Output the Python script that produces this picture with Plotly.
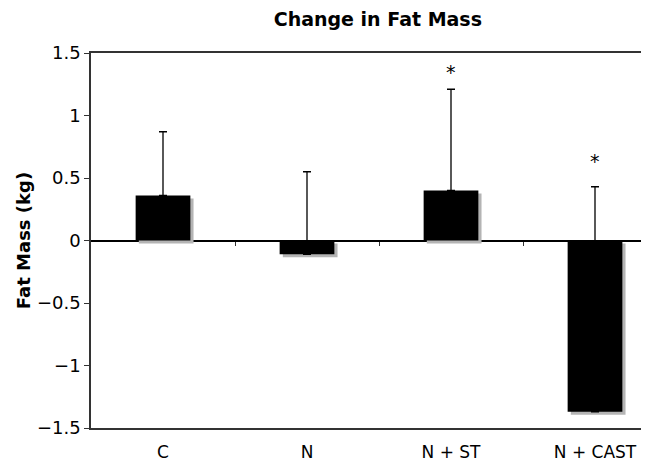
import plotly.graph_objects as go

categories = ["C", "N", "N + ST", "N + CAST"]
means = [0.36, -0.11, 0.40, -1.37]
err_top = [0.87, 0.55, 1.21, 0.43]          # top end of each error bar (kg)
star_y = [None, None, 1.37, 0.66]           # significance asterisks
y_ticks = [1.5, 1, 0.5, 0, -0.5, -1, -1.5]

err_plus = [t - m for t, m in zip(err_top, means)]
x_idx = list(range(len(categories)))

FONT = "DejaVu Sans, Verdana, sans-serif"
bar_w = 0.38

fig = go.Figure()
# soft drop shadow
fig.add_trace(go.Bar(
    x=x_idx, y=means, base=-0.024, width=bar_w, offset=-bar_w / 2 + 0.022,
    marker=dict(color="#b4b4b4", line=dict(width=0)), hoverinfo="skip", showlegend=False,
))
fig.add_trace(go.Bar(
    x=x_idx, y=means, width=bar_w, offset=-bar_w / 2,
    marker=dict(color="black", line=dict(width=0)), showlegend=False,
    error_y=dict(type="data", symmetric=False, array=err_plus,
                 arrayminus=[0] * len(means), color="black", thickness=1.3, width=4),
))

for i, s in enumerate(star_y):
    if s is not None:
        fig.add_annotation(x=i, y=s, text="*", showarrow=False, yanchor="middle",
                           yshift=-3, font=dict(family=FONT, size=19, color="black"))

fig.update_layout(
    width=641, height=454,
    margin=dict(l=83, r=0, t=45, b=30),
    paper_bgcolor="white", plot_bgcolor="white",
    barmode="overlay",
    title=dict(text="<b>Change in Fat Mass</b>", x=0.577, xanchor="center", y=0.974,
               yanchor="middle", font=dict(family=FONT, size=19, color="black")),
    xaxis=dict(
        range=[-0.5, 3.375], tickmode="array", tickvals=x_idx, ticktext=categories,
        showline=True, linecolor="#333", linewidth=1.5, mirror=True,
        ticks="", showgrid=False, zeroline=False, ticklabelstandoff=8,
        tickfont=dict(family=FONT, size=17, color="black"),
    ),
    xaxis2=dict(
        overlaying="x", anchor="free", position=0.5, side="bottom",
        range=[-0.5, 3.375], tickmode="array", tickvals=[0.5, 1.5, 2.5],
        ticks="outside", ticklen=4, tickwidth=1, tickcolor="#333",
        showticklabels=False, showline=False, showgrid=False, zeroline=False,
    ),
    yaxis=dict(
        range=[-1.5, 1.5], tickmode="array", tickvals=y_ticks,
        showline=True, linecolor="#333", linewidth=1.5,
        ticks="outside", ticklen=5, tickwidth=1, tickcolor="#333",
        showgrid=False, zeroline=True, zerolinecolor="black", zerolinewidth=1.8,
        tickfont=dict(family=FONT, size=18, color="black"),
        title=dict(text="<b>Fat Mass (kg)</b>", standoff=2,
                   font=dict(family=FONT, size=18, color="black")),
    ),
)
# invisible point so that the zero-line tick axis is drawn
fig.add_trace(go.Scatter(x=[0], y=[0], xaxis="x2", mode="markers",
                         marker=dict(opacity=0), hoverinfo="skip", showlegend=False))

fig.write_html("out.html")
